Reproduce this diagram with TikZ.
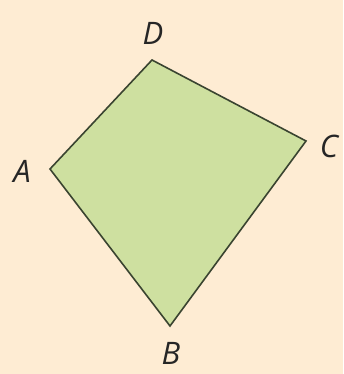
\documentclass[tikz,border=0pt]{standalone}
\usepackage{fontspec}
\setmainfont{Open Sans}
\usepackage{xcolor}
\usetikzlibrary{positioning}

\definecolor{paper}{RGB}{254,236,211}
\definecolor{leaf}{RGB}{206,224,160}
\definecolor{edge}{RGB}{58,68,48}

\tikzset{
  vlabel/.style={font=\fontsize{31}{31}\selectfont\itshape, text=black!85, inner sep=0pt}
}

\begin{document}
\begin{tikzpicture}[x=1pt, y=1pt]
        % Hintergrund
        \fill[paper] (0,0) rectangle (343,374);
        \useasboundingbox (0,0) rectangle (343,374);

        % Ecken
        \coordinate (A) at (50,205);
        \coordinate (B) at (170,48);
        \coordinate (C) at (306,233);
        \coordinate (D) at (152,314);

        % Viereck
        \draw[edge, fill=leaf, line width=1.6pt, line join=miter] (A) -- (B) -- (C) -- (D) -- cycle;

        % Beschriftung
        \node[vlabel] (lA) at (22,203) {A};
        \node[vlabel] (lB) at (171,21) {B};
        \node[vlabel] (lC) at (329,228) {C};
        \node[vlabel] (lD) at (153,341) {D};
    \end{tikzpicture}
\end{document}
